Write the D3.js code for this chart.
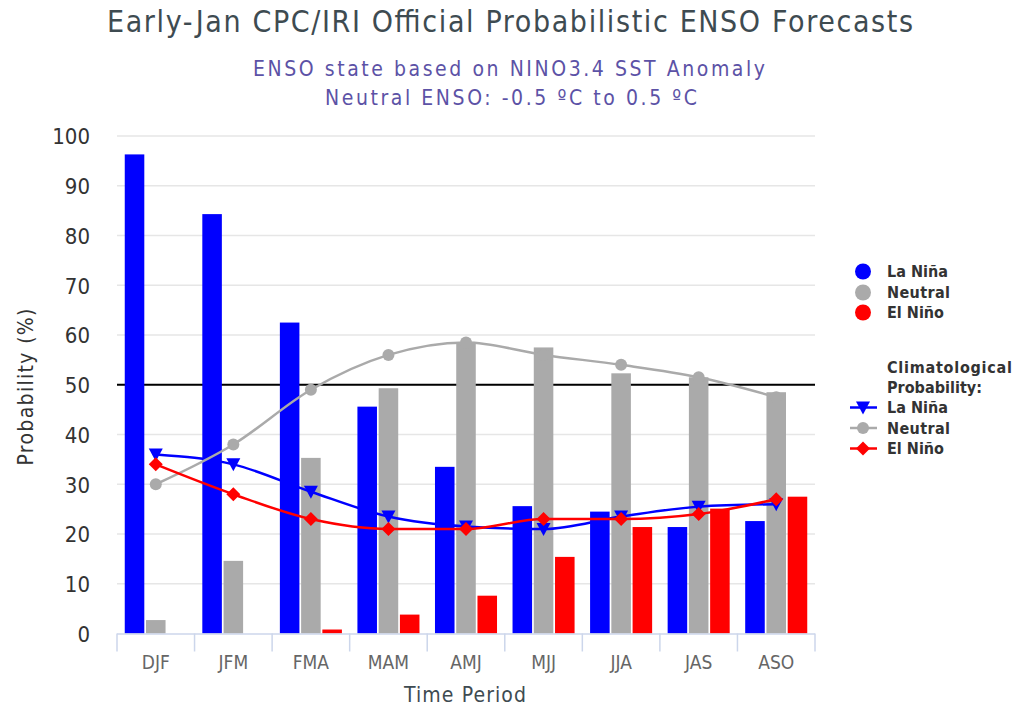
<!DOCTYPE html>
<html><head><meta charset="utf-8">
<script src="https://cdn.jsdelivr.net/npm/d3@7"></script>
<style>body{margin:0;background:#fff} svg{display:block}</style>
</head><body>
<svg id="c" width="1016" height="708"></svg>
<script>
const periods = ["DJF","JFM","FMA","MAM","AMJ","MJJ","JJA","JAS","ASO"];
const seriesNames = ["La Niña","Neutral","El Niño"];
const laNina  = [96.3, 84.3, 62.5, 45.6, 33.5, 25.6, 24.5, 21.4, 22.6];
const neutral = [2.7, 14.6, 35.3, 49.3, 58.6, 57.5, 52.3, 51.5, 48.5];
const elNino  = [0, 0, 0.8, 3.8, 7.6, 15.4, 21.4, 25.1, 27.5];
const climLaNina  = [36, 34, 28.5, 23.5, 21.5, 21, 23.5, 25.5, 26];
const climNeutral = [30, 38, 49, 56, 58.5, 56, 54, 51.5, 47.5];
const climElNino  = [34, 28, 23, 21, 21, 23, 23, 24, 27];
const yTicks = [0,10,20,30,40,50,60,70,80,90,100];
const neutralLine = 50;

const colors = {"La Niña":"#0000ff","Neutral":"#aaaaaa","El Niño":"#ff0000"};
const FONT = '"DejaVu Sans Condensed","DejaVu Sans",sans-serif';

const svg = d3.select("#c").style("font-family", FONT);
const L = 117, R = 815, T = 136, B = 633.5;

const x0 = d3.scaleBand().domain(periods).range([L, R]).padding(0);
const bw = x0.bandwidth();
const x1 = d3.scaleBand().domain(seriesNames).range([bw*0.1, bw*0.9]).paddingInner(0.08);
const y = d3.scaleLinear().domain([0,100]).range([B, T]);

// gridlines
svg.append("g").selectAll("line").data(yTicks.filter(d=>d>0)).join("line")
  .attr("x1", L).attr("x2", R).attr("y1", d=>y(d)).attr("y2", d=>y(d))
  .attr("stroke", "#e6e6e6").attr("stroke-width", 1.5);

// plot line at 50
svg.append("line").attr("x1", L).attr("x2", R)
  .attr("y1", y(neutralLine)).attr("y2", y(neutralLine))
  .attr("stroke", "#000").attr("stroke-width", 2);

// y axis labels
const yAxis = d3.axisLeft(y).tickValues(yTicks).tickSize(0).tickPadding(0);
const gy = svg.append("g").attr("transform", `translate(90,0)`).call(yAxis);
gy.select(".domain").remove();
gy.selectAll("text").attr("font-size", 22).attr("fill", "#333").attr("font-family", FONT).attr("dy","0.36em");

// bars
const barData = periods.map((p,i)=>({p, vals:[
  {s:"La Niña", v:laNina[i]},{s:"Neutral", v:neutral[i]},{s:"El Niño", v:elNino[i]}]}));
svg.append("g").selectAll("g").data(barData).join("g")
  .attr("transform", d=>`translate(${x0(d.p)},0)`)
  .selectAll("rect").data(d=>d.vals).join("rect")
  .attr("x", d=>x1(d.s)).attr("width", x1.bandwidth())
  .attr("y", d=>y(d.v)).attr("height", d=>B - y(d.v))
  .attr("fill", d=>colors[d.s]);

// x axis
const xAxis = d3.axisBottom(x0).tickSize(0).tickPadding(0);
const gx = svg.append("g").attr("transform", `translate(0,${B})`).call(xAxis);
gx.select(".domain").remove();
gx.selectAll("text").attr("font-size", 19).attr("fill", "#666").attr("font-family", FONT)
  .attr("dy", null).attr("y", 35);
svg.append("line").attr("x1", L).attr("x2", R).attr("y1", B+0.5).attr("y2", B+0.5)
  .attr("stroke", "#ccd6eb").attr("stroke-width", 1.5);
svg.append("g").selectAll("line").data(periods.concat(["__end"])).join("line")
  .attr("x1", (d,i)=> i<periods.length ? x0(d) : R).attr("x2", (d,i)=> i<periods.length ? x0(d) : R)
  .attr("y1", B).attr("y2", B+18).attr("stroke", "#ccd6eb").attr("stroke-width", 1.5);

// climatology lines
const cx = p => x0(p) + bw/2;
const lineGen = d3.line().x((d,i)=>cx(periods[i])).y(d=>y(d)).curve(d3.curveMonotoneX);
const clim = [
  {s:"La Niña", vals:climLaNina, sym:"tri"},
  {s:"Neutral", vals:climNeutral, sym:"circle"},
  {s:"El Niño", vals:climElNino, sym:"diamond"}];
function marker(g, sym, col){
  if(sym==="circle") g.append("circle").attr("r", 6).attr("fill", col);
  else if(sym==="tri") g.append("path").attr("d","M-7,-6L7,-6L0,7Z").attr("fill", col);
  else g.append("path").attr("d","M0,-7L7,0L0,7L-7,0Z").attr("fill", col);
}
clim.forEach(c=>{
  svg.append("path").attr("d", lineGen(c.vals)).attr("fill","none")
    .attr("stroke", colors[c.s]).attr("stroke-width", 2.5);
  c.vals.forEach((v,i)=>{
    const g = svg.append("g").attr("transform", `translate(${cx(periods[i])},${y(v)})`);
    marker(g, c.sym, colors[c.s]);
  });
});

// titles
function txt(x, yy, size, fill, s, len){
  const t = svg.append("text").attr("x", x).attr("y", yy).attr("text-anchor","middle")
    .attr("font-size", size).attr("fill", fill).text(s);
  if(len) t.attr("textLength", len).attr("lengthAdjust", "spacing");
  return t;
}
txt(510, 32, 30, "#3e4b51", "Early-Jan CPC/IRI Official Probabilistic ENSO Forecasts", 806);
txt(509, 76, 21, "#5c52a6", "ENSO state based on NINO3.4 SST Anomaly", 512);
txt(511, 105, 21, "#5c52a6", "Neutral ENSO: -0.5 ºC to 0.5 ºC", 372);
txt(465, 702, 21, "#3e4b51", "Time Period", 122);
svg.append("text").attr("transform", `translate(33,387) rotate(-90)`).attr("text-anchor","middle")
  .attr("font-size", 21).attr("fill", "#333").attr("textLength", 157).attr("lengthAdjust","spacing")
  .text("Probability (%)");

// legend
const lg = svg.append("g").attr("font-weight","bold").attr("font-size", 16).attr("fill","#333");
function ltxt(yy, s, len){
  lg.append("text").attr("x", 887).attr("y", yy).attr("dy","0.36em")
    .attr("textLength", len).attr("lengthAdjust","spacing").text(s);
}
const ly1 = [271.5, 292.5, 312.5];
const lens1 = [61, 63, 57];
seriesNames.forEach((s,i)=>{
  lg.append("circle").attr("cx", 863).attr("cy", ly1[i]).attr("r", 8).attr("fill", colors[s]);
  ltxt(ly1[i], s, lens1[i]);
});
ltxt(367.5, "Climatological", 125);
ltxt(387.5, "Probability:", 95);
const ly2 = [407.5, 428, 448.5];
clim.forEach((c,i)=>{
  lg.append("line").attr("x1", 850).attr("x2", 877).attr("y1", ly2[i]).attr("y2", ly2[i])
    .attr("stroke", colors[c.s]).attr("stroke-width", 2.5);
  const g = lg.append("g").attr("transform", `translate(863,${ly2[i]})`);
  marker(g, c.sym, colors[c.s]);
  ltxt(ly2[i], c.s, lens1[i]);
});
</script>
</body></html>
